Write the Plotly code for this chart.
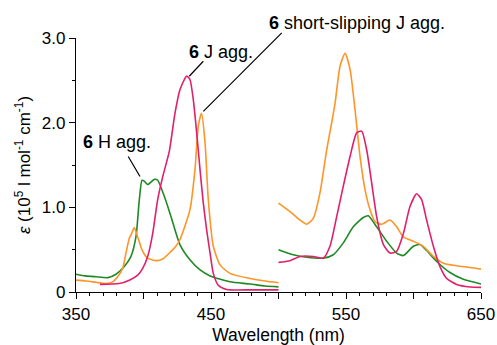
import plotly.graph_objects as go

# ---- data ----
# 6 H agg. (green)
h_left_x = [350, 357, 364.8, 373.7, 379.6, 384.6, 390.7, 394.4, 396.9, 398.9, 400.6, 403.1, 408, 410.5,
            415.4, 420.4, 427, 434.4, 441.9, 449.3, 464, 478.9, 490, 500]
h_left_y = [0.21, 0.19, 0.18, 0.17, 0.21, 0.28, 0.42, 0.65, 1.09, 1.32, 1.31, 1.27, 1.33, 1.32,
            1.13, 0.89, 0.56, 0.38, 0.26, 0.19, 0.12, 0.095, 0.07, 0.06]
h_right_x = [500, 511, 520.9, 533.2, 540.6, 548, 555.4, 562.8, 566.5, 572.7, 580.1, 587.5, 592.5,
             599.9, 604.8, 609.7, 617.2, 627, 636.9, 650]
h_right_y = [0.50, 0.44, 0.41, 0.40, 0.44, 0.58, 0.77, 0.88, 0.90, 0.77, 0.60, 0.46, 0.43,
             0.54, 0.56, 0.49, 0.36, 0.23, 0.15, 0.095]

# 6 J agg. (magenta)
j_left_x = [367.8, 382, 389.5, 395.7, 399.4, 403.1, 406.8, 410.5, 414.2, 419.1, 423.3, 427, 432,
            434.4, 436.9, 439.4, 441.9, 444.3, 446.8, 449.3, 451.7, 455.4, 461.6, 480, 500]
j_left_y = [0.09, 0.10, 0.14, 0.20, 0.28, 0.42, 0.69, 1.09, 1.36, 1.66, 2.11, 2.39, 2.55,
            2.51, 2.27, 1.88, 1.44, 1.05, 0.73, 0.46, 0.22, 0.08, 0.03, 0.025, 0.025]
j_right_x = [500, 508.5, 515.9, 525.8, 533.2, 538.1, 543.1, 548, 553, 557.9, 561.6, 565.3, 569,
             572.7, 577.7, 582.6, 587.5, 592.5, 597.4, 602.3, 606, 609.7, 614.7, 619.6, 624.6,
             632, 641.9, 650]
j_right_y = [0.35, 0.37, 0.42, 0.42, 0.40, 0.54, 0.89, 1.25, 1.60, 1.88, 1.90, 1.68, 1.29,
             0.89, 0.56, 0.46, 0.48, 0.69, 1.01, 1.16, 1.09, 0.85, 0.54, 0.30, 0.16,
             0.09, 0.06, 0.055]

# 6 short-slipping J agg. (orange)
s_left_x = [350, 357.4, 364.8, 372.2, 377.2, 380.9, 384.6, 387, 389.5, 391.2, 393.2, 395.7, 399.4,
            403.1, 409.3, 414.2, 420.4, 424, 427, 434.4, 438.1, 440.6, 443, 445.6, 448, 451.7,
            456.7, 464, 478.9, 490, 500]
s_left_y = [0.14, 0.13, 0.115, 0.10, 0.12, 0.18, 0.28, 0.46, 0.635, 0.69, 0.76, 0.65, 0.48,
            0.40, 0.37, 0.39, 0.48, 0.54, 0.62, 0.97, 1.44, 1.96, 2.11, 1.76, 1.09, 0.54,
            0.32, 0.22, 0.16, 0.13, 0.11]
s_right_x = [500, 508.5, 515.9, 520.9, 525.8, 530.7, 535.7, 539.4, 541.9, 545.6, 549.3, 553,
             556.7, 560.4, 564.1, 567.8, 571.5, 576.4, 582.6, 587.5, 592.5, 599.9, 607.3,
             614.7, 622.1, 632, 641.9, 650]
s_right_y = [1.05, 0.95, 0.85, 0.80, 0.87, 1.17, 1.68, 2.0, 2.23, 2.67, 2.82, 2.63,
             2.15, 1.60, 1.21, 0.97, 0.83, 0.80, 0.85, 0.77, 0.65, 0.60, 0.54,
             0.42, 0.34, 0.31, 0.29, 0.27]

x_label_ticks = [350, 450, 550, 650]
x_unlabeled_major_ticks = [400, 500, 600]
y_tickvals = [0, 1, 2, 3]
y_ticktext = ["0", "1.0", "2.0", "3.0"]
X_RANGE = [350, 650]
Y_MAX = 3.0

GREEN = "#1f8a24"
MAGENTA = "#e0206a"
ORANGE = "#ff9428"
FONT = "Liberation Sans, Arial, Helvetica, sans-serif"

fig = go.Figure()
series = [
    (h_left_x, h_left_y, GREEN), (h_right_x, h_right_y, GREEN),
    (s_left_x, s_left_y, ORANGE), (s_right_x, s_right_y, ORANGE),
    (j_left_x, j_left_y, MAGENTA), (j_right_x, j_right_y, MAGENTA),
]
for xs, ys, c in series:
    fig.add_trace(go.Scatter(x=xs, y=ys, mode="lines",
                             line=dict(color=c, width=1.6, shape="spline", smoothing=0.6),
                             showlegend=False, hoverinfo="skip"))

axis_common = dict(showline=True, linecolor="black", linewidth=1.2, ticks="outside",
                   ticklen=6, tickwidth=1.2, tickcolor="black", showgrid=False, zeroline=False,
                   automargin=False,
                   tickfont=dict(family=FONT, size=17, color="black"))

fig.update_layout(
    xaxis=dict(range=X_RANGE, tickmode="array", tickvals=x_label_ticks,
               ticktext=[str(v) for v in x_label_ticks],
               minor=dict(dtick=10, tick0=350, ticks="outside", ticklen=3, tickwidth=1.2,
                          tickcolor="black", showgrid=False),
               title=dict(text="Wavelength (nm)", font=dict(family=FONT, size=17.5, color="black"),
                          standoff=10),
               **axis_common),
    xaxis2=dict(range=X_RANGE, overlaying="x", side="bottom", anchor="y", tickmode="array",
                tickvals=x_unlabeled_major_ticks, showticklabels=False, ticks="outside",
                ticklen=6, tickwidth=1.2, tickcolor="black", showgrid=False, zeroline=False,
                showline=False, automargin=False),
    yaxis=dict(range=[0, Y_MAX], tickmode="array", tickvals=y_tickvals, ticktext=y_ticktext,
               minor=dict(dtick=0.5, tick0=0, ticks="outside", ticklen=3, tickwidth=1.2,
                          tickcolor="black", showgrid=False),
               title=dict(text="<i>ε</i> (10<sup>5</sup> l mol<sup>-1</sup> cm<sup>-1</sup>)",
                          font=dict(family=FONT, size=17, color="black"), standoff=6),
               **axis_common),
)
# invisible trace to activate the secondary x axis (carries the unlabeled 50-nm ticks)
fig.add_trace(go.Scatter(x=X_RANGE, y=[None, None], xaxis="x2", yaxis="y", mode="lines",
                         showlegend=False, hoverinfo="skip"))

ann_font = dict(family=FONT, size=18, color="black")
annotations = [
    dict(x=432.0, y=2.84, text="<b>6</b> J agg."),
    dict(x=491.8, y=3.18, text="<b>6</b> short-slipping J agg."),
    dict(x=354.0, y=1.77, text="<b>6</b> H agg."),
]
for a in annotations:
    fig.add_annotation(x=a["x"], y=a["y"] / Y_MAX, xref="x", yref="paper", text=a["text"],
                       xanchor="left", yanchor="middle", showarrow=False, font=ann_font)

# leader lines (x in nm, y in epsilon units)
leaders = [
    ((433.9, 2.548), (444.3, 2.725)),
    ((444.3, 2.134), (502.4, 3.06)),
    ((397.4, 1.364), (388.7, 1.601)),
]
for (hx, hy), (tx, ty) in leaders:
    fig.add_shape(type="line", xref="x", yref="paper", x0=hx, y0=hy / Y_MAX, x1=tx, y1=ty / Y_MAX,
                  line=dict(color="black", width=1.2))

fig.update_layout(width=497, height=345, margin=dict(l=76, r=16, t=38, b=53),
                  plot_bgcolor="white", paper_bgcolor="white",
                  font=dict(family=FONT, color="black"))

fig.write_html("out.html")
